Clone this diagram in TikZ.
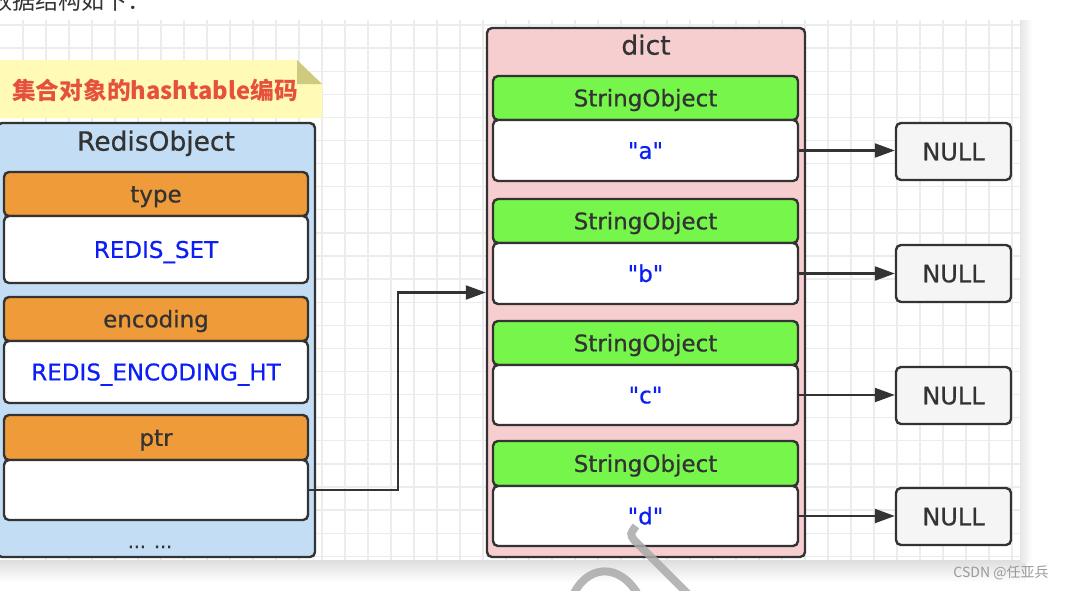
\documentclass[tikz,border=0pt]{standalone}
\usepackage{fontspec}
\newfontfamily\dv[FakeBold=0.6]{DejaVu Sans}
\newfontfamily\cjk{Noto Sans CJK SC}
\usetikzlibrary{arrows.meta}
\definecolor{dk}{RGB}{51,51,51}
\definecolor{blueF}{RGB}{195,221,245}
\definecolor{pinkF}{RGB}{247,206,208}
\definecolor{orangeF}{RGB}{240,155,57}
\definecolor{greenF}{RGB}{118,245,74}
\definecolor{nullF}{RGB}{245,245,245}
\definecolor{blueT}{RGB}{10,30,245}
\definecolor{noteY}{RGB}{255,250,181}
\definecolor{foldC}{RGB}{206,202,128}
\definecolor{noteR}{RGB}{229,81,62}
\definecolor{gridC}{RGB}{236,236,236}
\definecolor{wmC}{RGB}{170,170,170}
\tikzset{
  bx/.style={draw=dk, line width=2.4pt, rounded corners=5pt, inner sep=0pt,
    text height=16.8pt, text depth=0pt, text=dk, font=\dv\fontsize{23pt}{23pt}\selectfont},
  outerbox/.style={bx, minimum width=318pt},
  hdr/.style={bx, fill=orangeF, minimum width=304pt, minimum height=44pt},
  valbox/.style={bx, fill=white, minimum width=304pt, text=blueT},
  sohdr/.style={bx, fill=greenF, minimum width=305pt, minimum height=44pt},
  soval/.style={bx, fill=white, minimum width=305pt, minimum height=61pt, text=blueT},
  nullbox/.style={bx, fill=nullF, minimum width=115pt, minimum height=57pt, text height=17.5pt, font=\dv\fontsize{24pt}{24pt}\selectfont},
  ttl/.style={inner sep=0pt, text height=19.3pt, text depth=0pt, text=dk, font=\dv\fontsize{26.5pt}{26.5pt}\selectfont},
  conn/.style={draw=dk, line width=2.2pt, -{Triangle[length=20pt,width=14pt]}},
  gridl/.style={draw=gridC, line width=1.3pt},
  wm/.style={draw=wmC, opacity=0.85, line width=8pt}
}
\begin{document}
\begin{tikzpicture}[x=1pt,y=-1pt]
\useasboundingbox (0,0) rectangle (1066,590);
% panel shadow
\shade[top color=black!13, bottom color=white] (0,560) rectangle (1026,582);
\shade[left color=black!10, right color=white] (1020,20) rectangle (1032,562);
% grid panel
\fill[white] (0,20) rectangle (1020,560);
\foreach \i in {1,...,44} {\draw[gridl] (23*\i,20) -- (23*\i,560);}
\foreach \j in {0,...,23} {\draw[gridl] (0,25+23.1*\j) -- (1020,25+23.1*\j);}
% top text
\node[anchor=base west, inner sep=0pt, text=dk, font=\cjk\fontsize{23pt}{23pt}\selectfont] (toptxt) at (-11,9) {数据结构如下：};
% note
\fill[noteY] (0,60) -- (297,60) -- (322,84) -- (322,118) -- (0,118) -- cycle;
\fill[foldC] (297,60) -- (297,84) -- (322,84) -- cycle;
\node[anchor=base, inner sep=0pt, text=noteR, font=\cjk\bfseries\fontsize{23.7pt}{23.7pt}\selectfont] (note) at (155,99) {集合对象的hashtable编码};
% RedisObject
\node[outerbox, fill=blueF, minimum height=434pt] (ro) at (156,340) {};
\node[ttl] (rot) at (156,141) {RedisObject};
\node[hdr] (typeh) at (156,194) {type};
\node[valbox, minimum height=67pt] (typev) at (156,249.5) {REDIS\_SET};
\node[hdr] (ench) at (156,319) {encoding};
\node[valbox, minimum height=62pt] (encv) at (156,372) {REDIS\_ENCODING\_HT};
\node[hdr, minimum height=45pt] (ptrh) at (156,437.5) {ptr};
\node[valbox, minimum height=60pt] (ptrv) at (156,490) {};
\node[anchor=base, inner sep=0pt, text=dk, font=\dv\fontsize{19pt}{19pt}\selectfont] (dots) at (150,548) {... ...};
% dict
\node[outerbox, fill=pinkF, minimum height=529pt] (dict) at (646,292.5) {};
\node[ttl] (dictt) at (646,45) {dict};
\node[sohdr] (s1) at (645.5,98) {StringObject};
\node[soval] (v1) at (645.5,150.5) {"a"};
\node[sohdr] (s2) at (645.5,221) {StringObject};
\node[soval] (v2) at (645.5,273.5) {"b"};
\node[sohdr] (s3) at (645.5,343) {StringObject};
\node[soval, minimum height=60pt] (v3) at (645.5,395) {"c"};
\node[sohdr, minimum height=45pt] (s4) at (645.5,463.5) {StringObject};
\node[soval, minimum height=60pt] (v4) at (645.5,516) {"d"};
% NULL
\node[nullbox] (n1) at (953.5,151.5) {NULL};
\node[nullbox] (n2) at (953.5,273.5) {NULL};
\node[nullbox] (n3) at (953.5,395.5) {NULL};
\node[nullbox] (n4) at (953.5,516.5) {NULL};
% connectors
\draw[conn] (v1.east) -- (v1.east -| n1.west);
\draw[conn] (v2.east) -- (v2.east -| n2.west);
\draw[conn] (v3.east) -- (v3.east -| n3.west);
\draw[conn] (v4.east) -- (v4.east -| n4.west);
\coordinate (bend) at (398,292.5);
\draw[conn] (ptrv.east) -| (bend) -- (dict.west);
% watermark strokes
\draw[wm] (636,526) .. controls (630,534) .. (634,540) -- (690,596);
\draw[wm] (572,598) .. controls (585,565) and (620,560) .. (640,598);
% CSDN mark
\node[inner sep=0pt, text=gray!80, font=\cjk\fontsize{14pt}{14pt}\selectfont] (csdn) at (1001,573) {CSDN @任亚兵};
\end{tikzpicture}
\end{document}
